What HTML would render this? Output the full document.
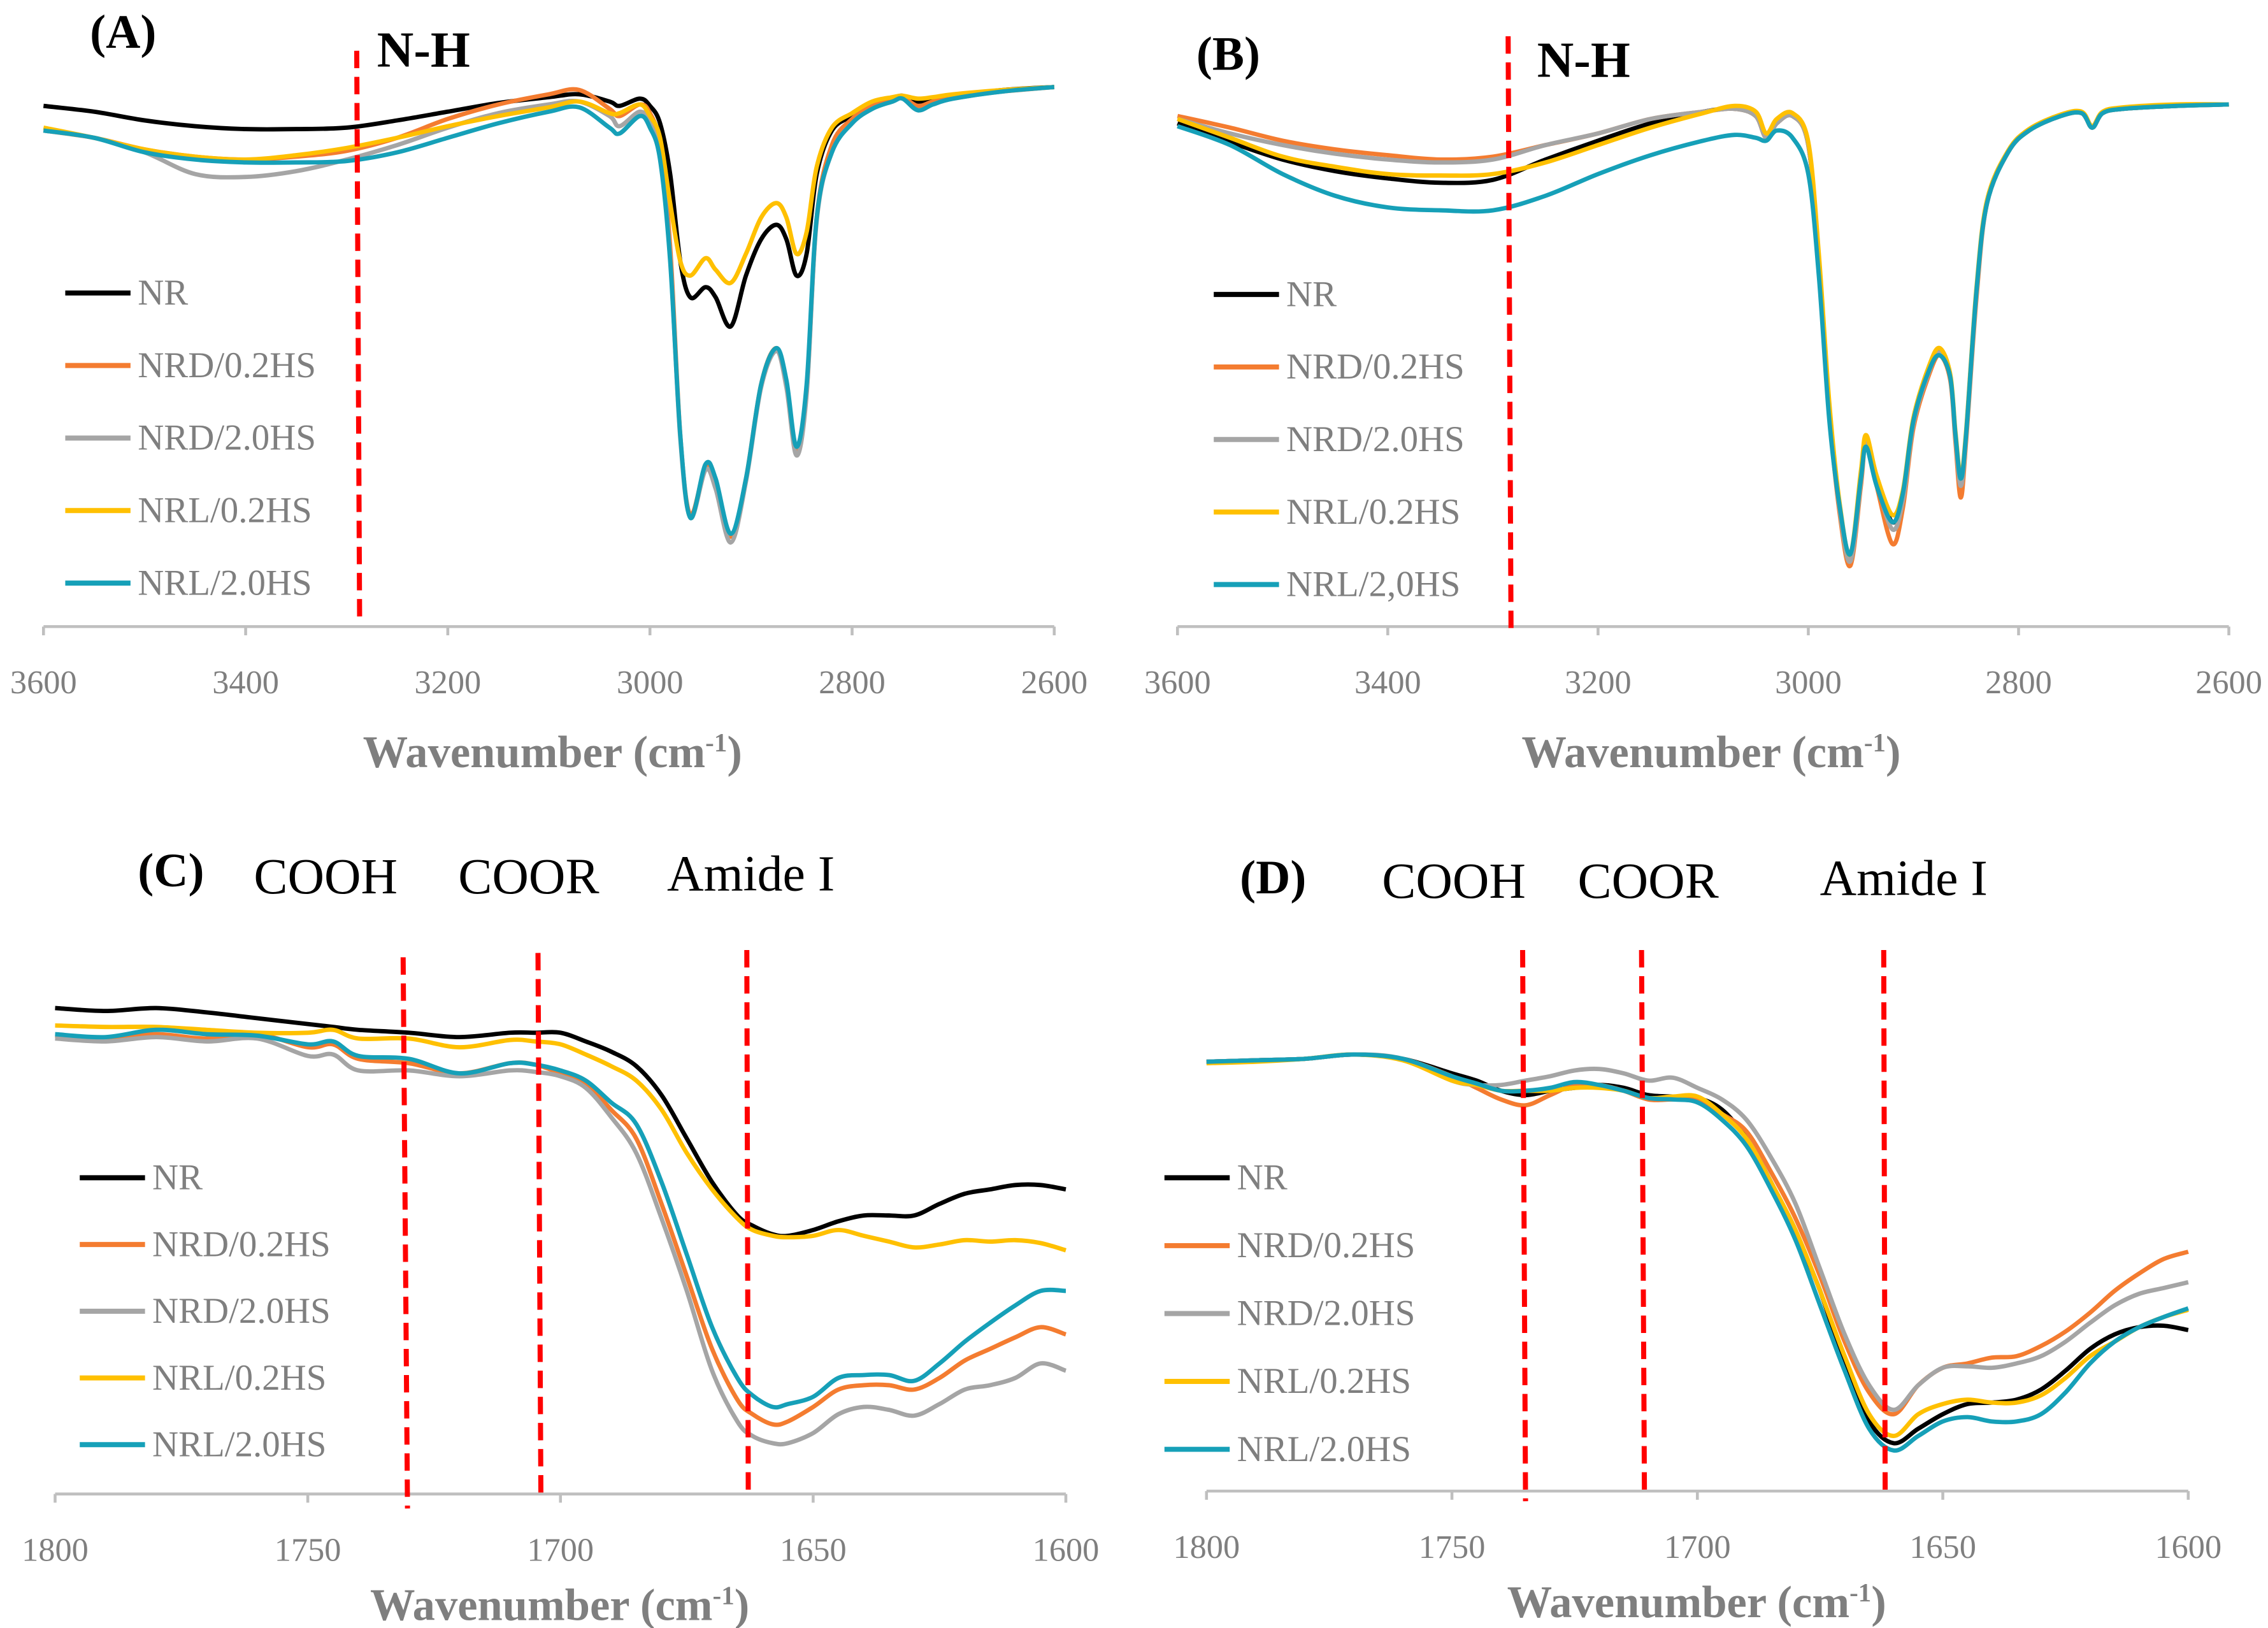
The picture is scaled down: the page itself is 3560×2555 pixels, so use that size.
<!DOCTYPE html>
<html><head><meta charset="utf-8"><style>
html,body{margin:0;padding:0;background:#fff;}
svg{display:block;}
text{font-family:"Liberation Serif",serif;}
</style></head>
<body>
<svg id="fig" width="3560" height="2555" viewBox="0 0 1564 1122.4" preserveAspectRatio="none" xmlns="http://www.w3.org/2000/svg"></svg>
<script>
// ---- Panel A data ----
const waveA = [3600,3550,3500,3450,3400,3350,3300,3250,3200,3150,3100,3070,3040,3030,3010,3000,2990,2980,2970,2960,2945,2935,2920,2905,2890,2875,2865,2855,2845,2835,2820,2800,2780,2760,2750,2735,2720,2700,2650,2600];
const A_NR = [359,355,349,345,343,343,344,349,355,361,365,367,362,359,364,359,347,312,252,227,234,227,207,242,267,277,267,242,257,312,342,352,360,364,366,362,364,366,370,372];
const A_NRD02 = [342,337,329,324,322,324,328,337,350,360,367,370,357,352,360,354,332,262,132,77,110,97,62,102,167,192,167,122,162,282,332,350,359,364,365,359,362,365,369,372];
const A_NRD20 = [342,337,327,312,310,314,322,332,344,354,360,362,352,345,355,347,325,255,130,75,108,95,58,100,165,190,165,118,160,280,327,347,357,362,364,356,360,364,369,372];
const A_NRL02 = [344,337,329,324,322,325,330,337,345,352,358,362,354,354,360,352,337,292,252,242,254,246,237,257,282,292,282,257,272,317,344,354,362,365,366,364,365,367,370,372];
const A_NRL20 = [342,337,327,322,320,320,321,327,337,347,355,358,344,340,352,344,322,252,132,75,112,102,64,102,167,192,170,124,167,282,327,347,357,362,364,356,360,364,369,372];
// ---- Panel B data ----
const waveB = [3600,3550,3500,3450,3400,3350,3300,3250,3200,3150,3100,3070,3050,3040,3030,3015,3000,2990,2980,2970,2960,2950,2945,2935,2920,2910,2900,2885,2875,2865,2860,2855,2850,2840,2830,2810,2790,2760,2740,2730,2720,2700,2650,2600];
const B_NR = [347,334,322,314,309,306,308,322,335,347,355,357,352,337,347,352,332,252,152,82,47,102,127,102,72,92,142,177,189,172,132,102,132,232,292,327,342,352,354,344,354,357,359,360];
const B_NRD02 = [352,344,335,329,325,322,324,332,340,350,355,357,352,337,347,352,332,252,147,77,42,97,127,97,57,82,137,174,187,170,127,89,127,227,292,327,342,352,354,344,354,357,359,360];
const B_NRD20 = [350,340,332,326,322,320,322,332,340,350,355,357,352,337,347,352,332,252,147,80,45,100,129,100,67,87,140,176,189,172,130,97,130,230,292,327,342,352,354,344,354,357,359,360];
const B_NRL02 = [350,337,324,317,312,311,312,320,332,344,354,359,355,340,350,354,334,257,154,84,50,107,132,104,77,94,144,180,192,174,134,104,134,234,294,328,343,353,355,345,355,358,360,360];
const B_NRL20 = [345,332,312,297,289,287,287,297,312,325,335,339,337,335,342,337,312,242,142,82,50,102,124,97,72,92,142,177,187,172,132,102,132,232,292,327,342,352,354,344,354,357,359,360];
// ---- Panel C data ----
const waveC = [1800,1790,1780,1770,1760,1750,1745,1740,1730,1720,1710,1705,1700,1695,1690,1685,1680,1675,1670,1665,1662,1658,1655,1650,1645,1640,1635,1630,1625,1620,1615,1610,1605,1600];
const C_NR = [335,333,335,332,328,324,322,320,318,315,318,318,318,312,305,295,275,245,215,192,185,179,178,182,188,192,192,192,200,207,210,213,213,210];
const C_NRD02 = [316,314,317,314,317,308,310,300,297,290,297,296,290,283,265,245,200,150,100,65,55,48,50,60,72,75,75,72,80,92,100,108,115,110];
const C_NRD20 = [314,312,315,312,314,302,303,292,292,288,292,291,288,280,260,235,190,140,85,50,40,35,35,42,55,60,58,54,62,72,75,80,90,85];
const C_NRL02 = [323,322,322,320,318,318,320,314,314,308,313,312,310,303,295,285,265,235,210,190,182,178,177,178,182,178,174,170,172,175,174,175,173,168];
const C_NRL20 = [317,315,320,317,316,310,312,302,300,290,297,296,292,285,270,255,215,165,115,80,68,60,62,67,80,82,82,78,90,105,118,130,140,140];
// ---- Panel D data ----
const waveD = [1800,1790,1780,1770,1760,1750,1745,1740,1735,1730,1725,1720,1715,1710,1705,1700,1695,1690,1685,1680,1675,1670,1665,1660,1655,1650,1645,1640,1635,1630,1625,1620,1615,1610,1605,1600];
const D_NR = [296,297,298,301,298,288,283,276,273,276,278,280,278,273,272,271,263,243,213,178,138,88,48,33,43,53,60,61,63,70,83,98,108,113,114,111];
const D_NRD02 = [296,297,298,301,298,286,278,270,266,273,280,280,276,270,270,270,260,248,220,188,148,103,68,53,73,85,88,92,93,100,110,123,138,150,160,165];
const D_NRD20 = [296,297,298,301,298,283,280,280,283,286,290,291,288,283,285,278,270,256,230,198,153,108,73,56,73,85,86,85,88,93,103,116,128,136,140,144];
const D_NRL02 = [295,296,298,301,297,283,280,276,276,276,278,278,276,271,272,272,260,243,213,180,138,93,53,38,53,60,63,61,61,66,78,93,103,113,120,125];
const D_NRL20 = [296,297,298,301,298,286,281,276,276,278,282,280,276,271,270,268,256,238,208,173,128,83,43,28,38,48,51,48,48,53,68,88,103,113,120,126];

const ticksAB = [3600,3400,3200,3000,2800,2600];
const ticksCD = [1800,1750,1700,1650,1600];
const seriesNames = ["NR","NRD/0.2HS","NRD/2.0HS","NRL/0.2HS","NRL/2.0HS"];
const seriesNamesB = ["NR","NRD/0.2HS","NRD/2.0HS","NRL/0.2HS","NRL/2,0HS"];
const colors = ["#000000","#f47c30","#a5a5a5","#ffc000","#16a0b8"];

const NS = "http://www.w3.org/2000/svg";
const svg = document.getElementById('fig');
function el(tag, attrs, parent){
  const e = document.createElementNS(NS, tag);
  for (const k in attrs) e.setAttribute(k, attrs[k]);
  (parent||svg).appendChild(e);
  return e;
}
function smoothPath(pts){
  let d = "M"+pts[0][0].toFixed(2)+","+pts[0][1].toFixed(2);
  for (let i=0;i<pts.length-1;i++){
    const p0=pts[Math.max(0,i-1)], p1=pts[i], p2=pts[i+1], p3=pts[Math.min(pts.length-1,i+2)];
    const c1x=p1[0]+(p2[0]-p0[0])/6, c1y=p1[1]+(p2[1]-p0[1])/6;
    const c2x=p2[0]-(p3[0]-p1[0])/6, c2y=p2[1]-(p3[1]-p1[1])/6;
    d+=" C"+c1x.toFixed(2)+","+c1y.toFixed(2)+" "+c2x.toFixed(2)+","+c2y.toFixed(2)+" "+p2[0].toFixed(2)+","+p2[1].toFixed(2);
  }
  return d;
}

function panel(cfg){
  const g = el('g', {});
  
  
  const xS = v => cfg.x0 + (cfg.w0 - v)/(cfg.w0 - cfg.w1)*(cfg.x1 - cfg.x0);
  const yS = v => cfg.axisY - v;
  const ax = el('line', {x1:cfg.x0, y1:cfg.axisY, x2:cfg.x1, y2:cfg.axisY, stroke:'#bfbfbf', 'stroke-width':2}, g);
  
  
  cfg.ticks.forEach(t=>{
    const x = xS(t);
    const tk = el('line', {x1:x, y1:cfg.axisY, x2:x, y2:cfg.axisY+6, stroke:'#bfbfbf', 'stroke-width':2}, g);
    
    
    const tl = el('text', {x:x, y:cfg.axisY+46, 'text-anchor':'middle', 'font-size':23, fill:'#7f7f7f'}, g);
    tl.textContent = t;
    
    
  });
  const at = el('text', {x:cfg.titleX, y:cfg.axisY+cfg.titleOff, 'text-anchor':'middle', 'font-size':31, 'font-weight':'bold', fill:'#7f7f7f'}, g);
  at.innerHTML = 'Wavenumber (cm<tspan dy="-11" font-size="18">-1</tspan><tspan dy="11">)</tspan>';
  
  
  cfg.series.forEach((s,i)=>{
    const pts = cfg.wave.map((w,j)=>[xS(w), yS(s[j])]);
    const p = el('path', {d:smoothPath(pts), fill:'none', stroke:colors[i], 'stroke-width':3, 'stroke-linejoin':'round'}, g);
    
    
  });
  cfg.dashes.forEach(d=>{
    const l = el('line', {x1:d[0], y1:d[1], x2:d[2], y2:d[3], stroke:'#ff0000', 'stroke-width':3.5, 'stroke-dasharray':'12,6'}, g);
    
    
  });
  cfg.names.forEach((n,i)=>{
    const y = cfg.legY + i*cfg.legStep;
    const ll = el('line', {x1:cfg.legX, y1:y, x2:cfg.legX+45, y2:y, stroke:colors[i], 'stroke-width':3.5}, g);
    
    
    const lt = el('text', {x:cfg.legX+50, y:y+8, 'font-size':25, fill:'#7f7f7f'}, g);
    lt.textContent = n;
    
    
  });
  cfg.labels.forEach(L=>{
    const t = el('text', {x:L[1], y:L[2], 'font-size':L[3], 'font-weight':L[4]?'bold':'normal', fill:'#000'}, g);
    t.textContent = L[0];
    
    
  });
}

panel({id:'a', x0:30, x1:727, w0:3600, w1:2600, axisY:432, ticks:ticksAB, titleX:381, titleOff:97, wave:waveA,
  series:[A_NR,A_NRD02,A_NRD20,A_NRL02,A_NRL20], names:seriesNames,
  dashes:[[246,35,248,430]], legX:45, legY:202, legStep:50,
  labels:[["(A)",62,33,33,true,'panel-label'],["N-H",260,46,35,true,'nh-annotation']]});
panel({id:'b', x0:812, x1:1537, w0:3600, w1:2600, axisY:432, ticks:ticksAB, titleX:1180, titleOff:97, wave:waveB,
  series:[B_NR,B_NRD02,B_NRD20,B_NRL02,B_NRL20], names:seriesNamesB,
  dashes:[[1040,25,1042,435]], legX:837, legY:203, legStep:50,
  labels:[["(B)",825,48,33,true,'panel-label'],["N-H",1060,53,35,true,'nh-annotation']]});
panel({id:'c', x0:38, x1:735, w0:1800, w1:1600, axisY:1030, ticks:ticksCD, titleX:386, titleOff:87, wave:waveC,
  series:[C_NR,C_NRD02,C_NRD20,C_NRL02,C_NRL20], names:seriesNames,
  dashes:[[278,660,281,1040],[371,657,373,1032],[515,655,516,1030]], legX:55, legY:812, legStep:46,
  labels:[["(C)",95,611,33,true,'panel-label'],["COOH",175,616,35,false,'cooh-annotation'],["COOR",316,616,35,false,'coor-annotation'],["Amide I",460,614,35,false,'amide-annotation']]});
panel({id:'d', x0:832, x1:1509, w0:1800, w1:1600, axisY:1028, ticks:ticksCD, titleX:1170, titleOff:87, wave:waveD,
  series:[D_NR,D_NRD02,D_NRD20,D_NRL02,D_NRL20], names:seriesNames,
  dashes:[[1050,655,1052,1035],[1132,655,1134,1032],[1299,655,1300,1030]], legX:803, legY:812, legStep:46.8,
  labels:[["(D)",855,616,33,true,'panel-label'],["COOH",953,619,35,false,'cooh-annotation'],["COOR",1088,619,35,false,'coor-annotation'],["Amide I",1255,617,35,false,'amide-annotation']]});
</script>
</body></html>
